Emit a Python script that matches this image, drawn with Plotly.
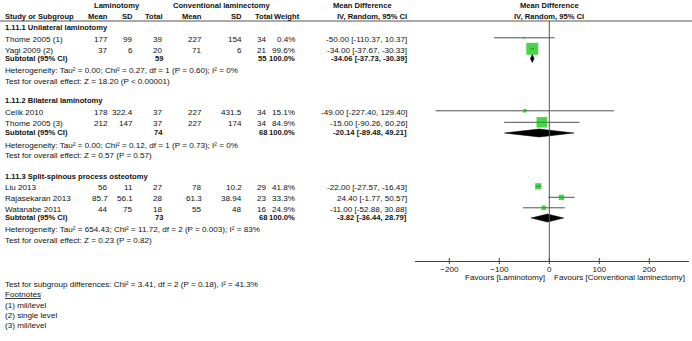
import plotly.graph_objects as go

# ---------------- data ----------------
groups = ["1.11.1 Unilateral laminotomy", "1.11.2 Bilateral laminotomy",
          "1.11.3 Split-spinous process osteotomy"]
studies = ["Thome 2005 (1)", "Yagi 2009 (2)", "Celik 2010", "Thome 2005 (3)",
           "Liu 2013", "Rajasekaran 2013", "Watanabe 2011"]
study_group = [0, 0, 1, 1, 2, 2, 2]
lam_mean = [177, 37, 178, 212, 56, 85.7, 44]
lam_sd = [99, 6, 322.4, 147, 11, 56.1, 75]
lam_n = [39, 20, 37, 37, 27, 28, 18]
con_mean = [227, 71, 227, 227, 78, 61.3, 55]
con_sd = [154, 6, 431.5, 174, 10.2, 38.94, 48]
con_n = [34, 21, 34, 34, 29, 23, 16]
weight = [0.4, 99.6, 15.1, 84.9, 41.8, 33.3, 24.9]
md = [-50.00, -34.00, -49.00, -15.00, -22.00, 24.40, -11.00]
ci_lo = [-110.37, -37.67, -227.40, -90.26, -27.57, -1.77, -52.88]
ci_hi = [10.37, -30.33, 129.40, 60.26, -16.43, 50.57, 30.88]

sub_lam_n = [59, 74, 73]
sub_con_n = [55, 68, 68]
sub_md = [-34.06, -20.14, -3.82]
sub_lo = [-37.73, -89.48, -36.44]
sub_hi = [-30.39, 49.21, 28.79]
heterogeneity = [
    "Heterogeneity: Tau² = 0.00; Chi² = 0.27, df = 1 (P = 0.60); I² = 0%",
    "Heterogeneity: Tau² = 0.00; Chi² = 0.12, df = 1 (P = 0.73); I² = 0%",
    "Heterogeneity: Tau² = 654.43; Chi² = 11.72, df = 2 (P = 0.003); I² = 83%",
]
overall = [
    "Test for overall effect: Z = 18.20 (P < 0.00001)",
    "Test for overall effect: Z = 0.57 (P = 0.57)",
    "Test for overall effect: Z = 0.23 (P = 0.82)",
]
subgroup_diff = "Test for subgroup differences: Chi² = 3.41, df = 2 (P = 0.18), I² = 41.3%"
footnotes = ["(1) mil/level", "(2) single level", "(3) mil/level"]
tick_vals = [-200, -100, 0, 100, 200]
favours_left = "Favours [Laminotomy]"
favours_right = "Favours [Conventional laminectomy]"

# ---------------- layout helpers ----------------
W, H = 692, 341
FONT = "Liberation Sans, Arial, sans-serif"
FS = 8.1
FSB = 7.6
TXT = "#111111"

# row y-positions (pixels from top)
group_y = [27, 100, 176]
study_y = [39, 50, 112, 123.5, 187.5, 198.5, 209]
sub_y = [58, 132.5, 217.5]
het_y = [70.5, 145, 229]
test_y = [81, 155.5, 240]
subdiff_y = 284
foot_y = [294.5, 305.5, 315.5, 325.5]
HEADER_LINE_Y = 21
AXIS_Y = 261
ZERO_PX = 549.3
PX_PER_UNIT = 0.5
AX_L, AX_R = 415, 689

annotations = []


def txt(x, y, s, anchor="left", bold=False, size=None, color=TXT):
    if bold:
        s = "<b>" + s + "</b>"
    if size is None:
        size = FSB if bold else FS
    annotations.append(dict(
        x=x / W, y=y, xref="paper", yref="y", text=s, showarrow=False,
        xanchor=anchor, yanchor="middle", borderpad=0,
        font=dict(family=FONT, size=size, color=color)))


def fmt(v):
    return f"{v:g}"


# column positions (right edges unless noted)
X_NAME = 4
X_LMEAN, X_LSD, X_LN = 109, 134, 164
X_CMEAN, X_CSD, X_CN = 203, 243, 268
X_W, X_CI = 296, 408

# headers
txt(116.5, 5.5, "Laminotomy", "center", True)
txt(222, 5.5, "Conventional laminectomy", "center", True)
txt(363, 5.5, "Mean Difference", "center", True)
txt(ZERO_PX, 5.5, "Mean Difference", "center", True)
txt(X_NAME, 16, "Study or Subgroup", "left", True)
txt(X_LMEAN, 16, "Mean", "right", True)
txt(X_LSD, 16, "SD", "right", True)
txt(X_LN, 16, "Total", "right", True)
txt(X_CMEAN, 16, "Mean", "right", True)
txt(X_CSD, 16, "SD", "right", True)
txt(274, 16, "Total", "right", True)
txt(301, 16, "Weight", "right", True)
txt(X_CI, 16, "IV, Random, 95% CI", "right", True)
txt(ZERO_PX, 16, "IV, Random, 95% CI", "center", True)

for g in range(3):
    txt(X_NAME, group_y[g], groups[g], "left", True)
    txt(X_NAME, sub_y[g], "Subtotal (95% CI)", "left", True)
    txt(X_LN, sub_y[g], str(sub_lam_n[g]), "right", True)
    txt(X_CN, sub_y[g], str(sub_con_n[g]), "right", True)
    txt(X_W, sub_y[g], "100.0%", "right", True)
    txt(X_CI, sub_y[g], f"{sub_md[g]:.2f} [{sub_lo[g]:.2f}, {sub_hi[g]:.2f}]", "right", True)
    txt(X_NAME, het_y[g], heterogeneity[g])
    txt(X_NAME, test_y[g], overall[g])

for i, s in enumerate(studies):
    y = study_y[i]
    txt(X_NAME, y, s)
    txt(X_LMEAN, y, fmt(lam_mean[i]), "right")
    txt(X_LSD, y, fmt(lam_sd[i]), "right")
    txt(X_LN, y, str(lam_n[i]), "right")
    txt(X_CMEAN, y, fmt(con_mean[i]), "right")
    txt(X_CSD, y, fmt(con_sd[i]), "right")
    txt(X_CN, y, str(con_n[i]), "right")
    txt(X_W, y, f"{weight[i]:.1f}%", "right")
    txt(X_CI, y, f"{md[i]:.2f} [{ci_lo[i]:.2f}, {ci_hi[i]:.2f}]", "right")

txt(X_NAME, subdiff_y, subgroup_diff)
txt(X_NAME, foot_y[0], "<u>Footnotes</u>")
for k, f in enumerate(footnotes):
    txt(X_NAME, foot_y[k + 1], f)

txt(ZERO_PX - 3, 277.5, favours_left, "right")
txt(ZERO_PX + 4, 277.5, favours_right, "left")

# ---------------- forest marks ----------------
MARK_DY = -1.2
line_x, line_y = [], []
for i in range(len(studies)):
    y = study_y[i] + MARK_DY
    line_x += [ci_lo[i], ci_hi[i], None]
    line_y += [y, y, None]

dia_x, dia_y = [], []
for g in range(3):
    y = sub_y[g] + 0.5
    dia_x += [sub_lo[g], sub_md[g], sub_hi[g], sub_md[g], sub_lo[g], None]
    dia_y += [y, y - 4, y, y + 4, y, None]

fig = go.Figure()
fig.add_trace(go.Scatter(x=line_x, y=line_y, mode="lines",
                         line=dict(color="#505050", width=1), hoverinfo="skip"))
fig.add_trace(go.Scatter(
    x=md, y=[v + MARK_DY for v in study_y], mode="markers",
    marker=dict(symbol="square", color="#00c000",
                size=[2 + 0.1 * w for w in weight], line=dict(width=0)),
    hoverinfo="skip"))
fig.add_trace(go.Scatter(x=dia_x, y=dia_y, mode="lines", fill="toself",
                         fillcolor="black", line=dict(color="black", width=0.5),
                         hoverinfo="skip"))

shapes = [
    dict(type="line", xref="paper", yref="y", x0=0, x1=1,
         y0=HEADER_LINE_Y, y1=HEADER_LINE_Y, line=dict(color="#555", width=1)),
    dict(type="line", xref="x", yref="y", x0=0, x1=0,
         y0=HEADER_LINE_Y, y1=AXIS_Y, line=dict(color="#555", width=1)),
]
for t in tick_vals:
    shapes.append(dict(type="line", xref="x", yref="y", x0=t, x1=t,
                       y0=AXIS_Y - 3, y1=AXIS_Y + 3, line=dict(color="#444", width=1)))

x_range = [(AX_L - ZERO_PX) / PX_PER_UNIT, (AX_R - ZERO_PX) / PX_PER_UNIT]

fig.update_layout(
    width=W, height=H, margin=dict(l=0, r=0, t=0, b=0, pad=0),
    paper_bgcolor="white", plot_bgcolor="rgba(0,0,0,0)", showlegend=False,
    annotations=annotations, shapes=shapes,
    xaxis=dict(domain=[AX_L / W, AX_R / W], range=x_range, anchor="free",
               position=1 - AXIS_Y / H, showline=True, linecolor="#444",
               linewidth=1, ticks="", tickvals=tick_vals,
               tickfont=dict(family=FONT, size=FS, color=TXT),
               showgrid=False, zeroline=False, fixedrange=True),
    yaxis=dict(domain=[0, 1], range=[H, 0], visible=False, fixedrange=True),
)

fig.write_html("out.html", config={"displayModeBar": False},
               post_script="document.body.style.margin='0px';")
